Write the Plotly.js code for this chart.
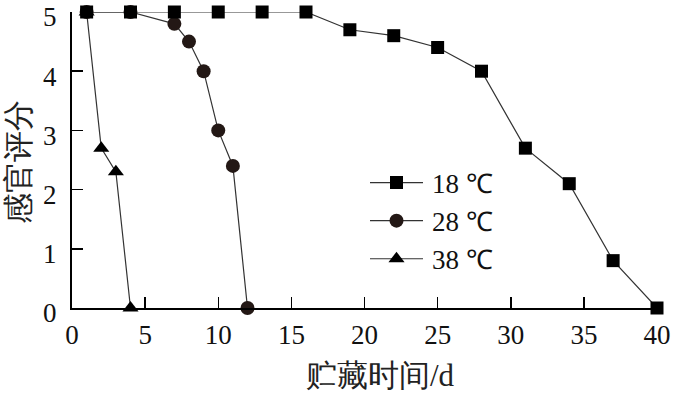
<!DOCTYPE html>
<html>
<head>
<meta charset="utf-8">
<script src="https://cdn.plot.ly/plotly-3.0.1.min.js"></script>
<style>html,body{margin:0;padding:0;background:#fff;}#chart{width:674px;height:395px;}</style>
</head>
<body>
<div id="chart"></div>
<script>
var seriesNames = ["18 ℃", "28 ℃", "38 ℃"];
var days18 = [1, 4, 7, 10, 13, 16, 19, 22, 25, 28, 31, 34, 37, 40];
var score18 = [5, 5, 5, 5, 5, 5, 4.7, 4.6, 4.4, 4.0, 2.7, 2.1, 0.8, 0];
var days28 = [1, 4, 7, 8, 9, 10, 11, 12];
var score28 = [5, 5, 4.8, 4.5, 4.0, 3.0, 2.4, 0];
var days38 = [1, 2, 3, 4];
var score38 = [5, 2.7, 2.3, 0];
var xTicks = [0, 5, 10, 15, 20, 25, 30, 35, 40];
var yTicks = [0, 1, 2, 3, 4, 5];
var xTitle = "贮藏时间/d";
var yTitle = "感官评分";

var serif = "Liberation Serif";
var lineStyle = {color: "#333333", width: 1.2};

var traces = [
  {x: days38, y: score38, name: seriesNames[2], legendgroup: "c", mode: "lines+markers",
   line: lineStyle, marker: {symbol: "triangle-up", size: 14, color: "#000000"}, cliponaxis: false},
  {x: days28, y: score28, name: seriesNames[1], legendgroup: "b", mode: "lines+markers",
   line: lineStyle, marker: {symbol: "circle", size: 14, color: "#231815"}, cliponaxis: false},
  {x: days18, y: score18, name: seriesNames[0], legendgroup: "a", mode: "lines+markers",
   line: lineStyle, marker: {symbol: "square", size: 13, color: "#000000"}, cliponaxis: false}
];

var layout = {
  width: 674, height: 395,
  margin: {l: 72, r: 17, t: 12, b: 87},
  paper_bgcolor: "#ffffff", plot_bgcolor: "#ffffff",
  font: {family: serif, size: 27, color: "#111111"},
  showlegend: true,
  legend: {x: (370 - 72) / 585, y: 0.505, xanchor: "left", yanchor: "top", traceorder: "reversed",
           itemwidth: 52, tracegroupgap: 6, bgcolor: "rgba(0,0,0,0)",
           font: {family: serif, size: 27, color: "#111"}},
  xaxis: {range: [0, 40], tickvals: xTicks, ticks: "inside", ticklen: 11, tickwidth: 1.5,
          tickcolor: "#000", showline: true, linecolor: "#000", linewidth: 2, showgrid: false,
          zeroline: false, ticklabeloverflow: "allow", ticklabelstandoff: 2,
          tickfont: {family: serif, size: 27, color: "#111"}},
  yaxis: {range: [0, 5], tickvals: yTicks, ticks: "inside", ticklen: 11, tickwidth: 1.5,
          tickcolor: "#000", showline: true, linecolor: "#000", linewidth: 2, showgrid: false,
          zeroline: false, ticklabeloverflow: "allow", ticklabelstandoff: 8, ticklabelshift: 5,
          tickfont: {family: serif, size: 27, color: "#111"}},
  annotations: [
    {text: xTitle, xref: "paper", yref: "paper", x: (380 - 72) / 585, y: -(375 - 308) / 296,
     xanchor: "center", yanchor: "middle", showarrow: false,
     font: {family: serif, size: 31, color: "#222"}},
    {text: yTitle, xref: "paper", yref: "paper", x: -(72 - 18) / 585, y: (308 - 162) / 296,
     xanchor: "center", yanchor: "middle", showarrow: false, textangle: -90,
     font: {family: serif, size: 31, color: "#222"}}
  ]
};

Plotly.newPlot("chart", traces, layout, {staticPlot: true, displayModeBar: false}).then(function () {
  var paths = document.querySelectorAll(".legend .legendlines path");
  paths.forEach(function (p) { p.setAttribute("d", "M0,0h53"); });
  var pts = document.querySelectorAll(".legend .legendpoints path");
  pts.forEach(function (p) { p.setAttribute("transform", "translate(26.5,0)"); });
});
</script>
</body>
</html>
